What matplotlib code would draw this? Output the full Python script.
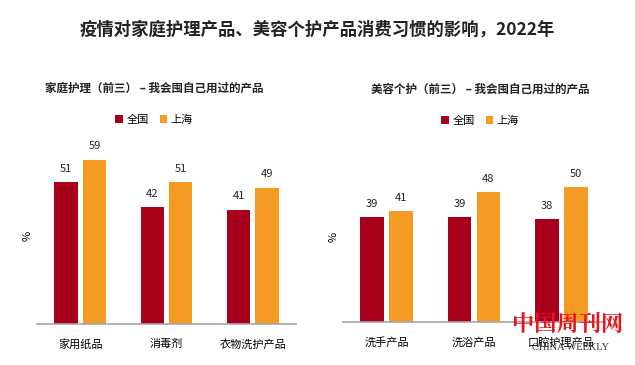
import matplotlib.pyplot as plt
import numpy as np

plt.rcParams['font.family'] = ['Noto Sans CJK SC', 'DejaVu Sans']

series = ['全国', '上海']
home_cats = ['家用纸品', '消毒剂', '衣物洗护产品']
home_national = [51, 42, 41]
home_shanghai = [59, 51, 49]
beauty_cats = ['洗手产品', '洗浴产品', '口腔护理产品']
beauty_national = [39, 39, 38]
beauty_shanghai = [41, 48, 50]

RED = '#A8001C'
ORANGE = '#F59B23'
W, H = 635, 365


def draw_panel(fig, ax, cats, nat, sh, subtitle, cx, sub_y, leg_y):
    x = np.arange(len(cats))
    w = 0.27
    b1 = ax.bar(x - 0.165, nat, w, color=RED, label=series[0])
    b2 = ax.bar(x + 0.165, sh, w, color=ORANGE, label=series[1])
    for bars in (b1, b2):
        for r in bars:
            ax.text(r.get_x() + r.get_width() / 2, r.get_height() + 3,
                    f'{r.get_height():.0f}', ha='center', va='bottom',
                    fontsize=8, color='#222222')
    ax.set_xticks(x)
    ax.set_xticklabels(cats, fontsize=8)
    ax.tick_params(length=0, pad=11)
    ax.set_yticks([])
    for s in ['top', 'right', 'left']:
        ax.spines[s].set_visible(False)
    ax.spines['bottom'].set_color('#A6A6A6')
    ax.spines['bottom'].set_linewidth(1.2)
    ax.set_xlim(-0.5, len(cats) - 0.5)
    ax.set_ylim(0, 70)
    ax.set_ylabel('%', fontsize=8)
    ax.yaxis.set_label_coords(-0.015, 0.45)
    fig.legend(handles=[b1, b2], loc='center', bbox_to_anchor=(cx / W, 1 - leg_y / H),
               ncol=2, frameon=False, fontsize=8, handlelength=0.7, handleheight=0.7,
               handletextpad=0.3, columnspacing=1.0)
    fig.text(cx / W, 1 - sub_y / H, subtitle, ha='center', va='center',
             fontsize=8.3, fontweight='bold', color='#222222')


fig = plt.figure(figsize=(6.35, 3.65), dpi=100)
ax1 = fig.add_axes([37 / W, 41 / H, 259 / W, 195 / H])
ax2 = fig.add_axes([343 / W, 43 / H, 262 / W, 189 / H])

draw_panel(fig, ax1, home_cats, home_national, home_shanghai,
           '家庭护理（前三） – 我会囤自己用过的产品', 154, 88, 120)
draw_panel(fig, ax2, beauty_cats, beauty_national, beauty_shanghai,
           '美容个护（前三） – 我会囤自己用过的产品', 480, 89, 121)

fig.text(0.5, 1 - 30 / H, '疫情对家庭护理产品、美容个护产品消费习惯的影响，2022年',
         ha='center', va='center', fontsize=12.5, fontweight='bold',
         color='#222222')

# watermark
fig.text(568 / W, 1 - 325 / H, '中国周刊网', ha='center', va='center',
         fontsize=16, fontweight='bold', color='#E8141E',
         family=['Noto Serif CJK SC', 'Noto Sans CJK SC'])
fig.text(570 / W, 1 - 348 / H, 'CHINA WEEKLY', ha='center', va='center',
         fontsize=7.5, color='#333333', family='Liberation Serif')

fig.savefig('out.png', dpi=100)
